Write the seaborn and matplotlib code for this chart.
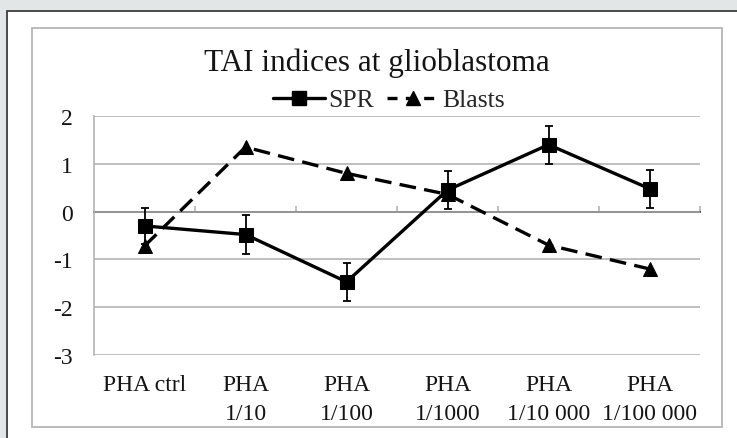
import matplotlib
matplotlib.use("Agg")
import matplotlib.pyplot as plt
import seaborn as sns
import pandas as pd
from matplotlib.patches import Rectangle
from matplotlib.lines import Line2D

categories = ["PHA ctrl", "PHA\n1/10", "PHA\n1/100", "PHA\n1/1000", "PHA\n1/10 000", "PHA\n1/100 000"]
spr = [-0.30, -0.48, -1.47, 0.45, 1.40, 0.48]
spr_err = [0.38, 0.40, 0.40, 0.40, 0.40, 0.40]
blasts = [-0.72, 1.35, 0.80, 0.36, -0.70, -1.20]
yticks = [-3, -2, -1, 0, 1, 2]
title = "TAI indices at glioblastoma"

pos = list(range(len(categories)))
df = pd.DataFrame({
    "pos": pos * 2,
    "value": spr + blasts,
    "series": ["SPR"] * len(pos) + ["Blasts"] * len(pos),
})

sns.set_theme(style="white")
plt.rcParams["font.family"] = ["Liberation Serif", "DejaVu Serif"]

fig = plt.figure(figsize=(7.37, 4.39), dpi=100)
fig.patch.set_facecolor("#e3e6e7")
W, H = 737, 439
# white panel with dark border (top/left)
fig.patches.append(Rectangle((7 / W, -0.1), 1.2, 1.1 - 12 / H, transform=fig.transFigure,
                             facecolor="white", edgecolor="#3c3c3c", linewidth=1.3, zorder=-3))
# inner light grey chart border
fig.patches.append(Rectangle((32 / W, 1 - 428 / H), (722 - 32) / W, (428 - 29) / H,
                             transform=fig.transFigure, facecolor="white",
                             edgecolor="#b5b5b5", linewidth=1.3, zorder=-2))

ax = fig.add_axes([94 / W, 1 - 356 / H, (700 - 94) / W, (356 - 117) / H])
ax.set_facecolor("none")
ax.set_zorder(2)

grid_c = "#aeaeae"
for y in yticks:
    ax.axhline(y, color=grid_c, linewidth=1.1, zorder=1)

ax.errorbar(pos, spr, yerr=spr_err, fmt="none", ecolor="black", elinewidth=1.3,
            capsize=3, capthick=1.3, zorder=3)

dash = (5, 2.5)
sns.lineplot(data=df, x="pos", y="value", style="series", hue="series",
             palette={"SPR": "black", "Blasts": "black"},
             markers={"SPR": "s", "Blasts": "^"},
             dashes={"SPR": "", "Blasts": dash},
             markersize=9.5, linewidth=2.4, markeredgecolor="black",
             ax=ax, zorder=4, legend=False)

ax.set_xlim(-0.5, len(categories) - 0.5)
ax.set_ylim(-3, 2)
ax.set_xticks(pos)
ax.set_xticklabels(categories, fontsize=17, color="#141414", linespacing=1.45)
ax.set_yticks(yticks)
ax.set_yticklabels([str(v) for v in yticks], fontsize=17, color="#141414")
ax.set_xlabel("")
ax.set_ylabel("")
ax.tick_params(axis="x", length=0, pad=14)
ax.tick_params(axis="y", length=6, width=1.1, color=grid_c, pad=9, direction="out")
for s in ["top", "right", "bottom"]:
    ax.spines[s].set_visible(False)
ax.spines["left"].set_color(grid_c)
ax.spines["left"].set_linewidth(1.1)

# horizontal axis crossing at 0 with boundary tick marks
sec = ax.secondary_xaxis(location=(0 - (-3)) / 5)
sec.set_xticks([p + 0.5 for p in pos])
sec.set_xticklabels([])
sec.tick_params(axis="x", length=4, width=1.1, color=grid_c, direction="out")
sec.spines["bottom"].set_color(grid_c)
sec.spines["bottom"].set_linewidth(1.1)

# legend
h1 = Line2D([], [], color="black", linewidth=2.4, marker="s", markersize=9.5)
h2 = Line2D([], [], color="black", linewidth=2.4, marker="^", markersize=9.5, dashes=(3, 2.5))
fig.legend([h1, h2], ["SPR", "Blasts"], loc="center", bbox_to_anchor=(389 / W, 1 - 101 / H),
           ncol=2, frameon=False, fontsize=18.5, handlelength=2.0, handletextpad=0.15,
           columnspacing=0.5)

fig.text(377 / W, 1 - 63 / H, title, ha="center", va="center", fontsize=22.5, color="#141414")

fig.savefig("out.png", dpi=100, facecolor=fig.get_facecolor())
